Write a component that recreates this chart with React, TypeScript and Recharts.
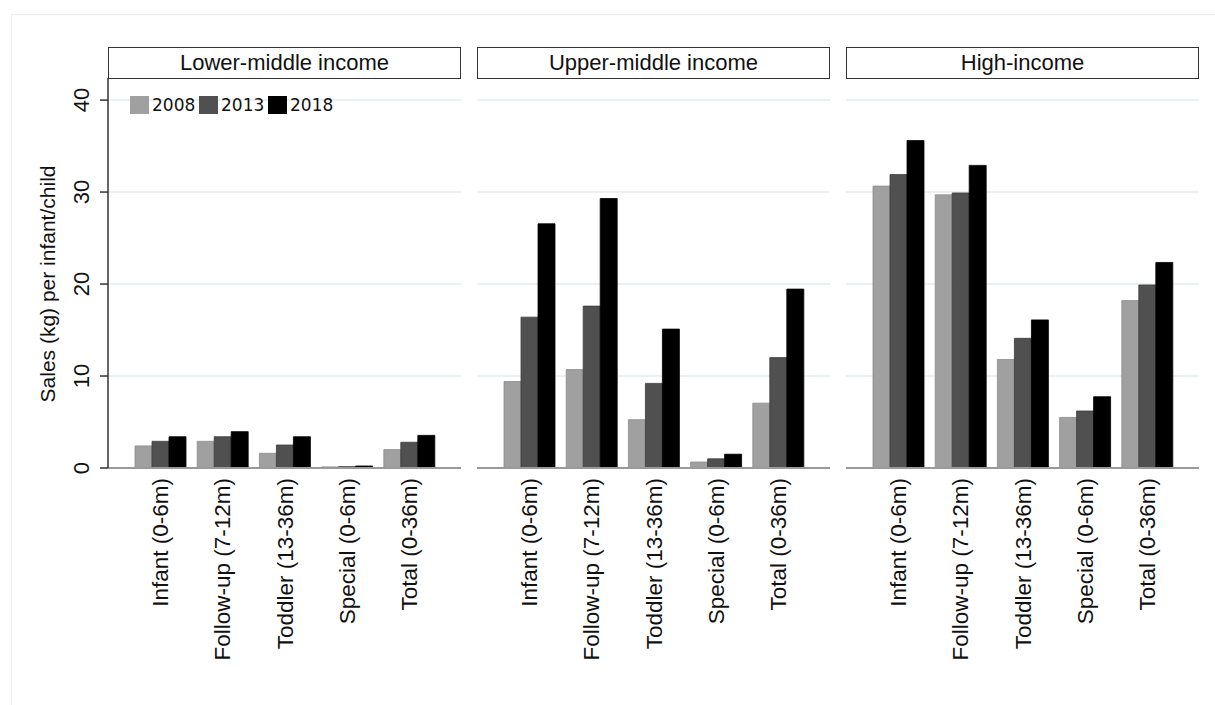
import React from 'react';
import { BarChart, Bar, XAxis, YAxis, CartesianGrid } from 'recharts';

// Formula sales (kg) per infant/child, by income group and year
const CATEGORIES = ['Infant (0-6m)', 'Follow-up (7-12m)', 'Toddler (13-36m)', 'Special (0-6m)', 'Total (0-36m)'];
const YEARS = ['2008', '2013', '2018'];
const PANELS = ['Lower-middle income', 'Upper-middle income', 'High-income'];

const LOWER_2008 = [2.4, 2.9, 1.6, 0.12, 2.0];
const LOWER_2013 = [2.9, 3.4, 2.5, 0.15, 2.8];
const LOWER_2018 = [3.4, 3.95, 3.4, 0.22, 3.55];

const UPPER_2008 = [9.4, 10.7, 5.25, 0.65, 7.05];
const UPPER_2013 = [16.4, 17.6, 9.2, 1.0, 12.0];
const UPPER_2018 = [26.55, 29.3, 15.1, 1.5, 19.45];

const HIGH_2008 = [30.65, 29.7, 11.8, 5.5, 18.2];
const HIGH_2013 = [31.9, 29.9, 14.1, 6.2, 19.9];
const HIGH_2018 = [35.6, 32.9, 16.1, 7.75, 22.35];

const Y_TICKS = [0, 10, 20, 30, 40];

const COLORS = ['#a0a0a0', '#505050', '#000000'];
const STROKES = ['#8c8c8c', '#3c3c3c', '#000000'];

const FONT = '"Liberation Sans", Arial, Helvetica, sans-serif';

const build = (a: number[], b: number[], c: number[]) =>
  CATEGORIES.map((name, i) => ({ name, y2008: a[i], y2013: b[i], y2018: c[i] }));

const PANEL_DATA = [
  build(LOWER_2008, LOWER_2013, LOWER_2018),
  build(UPPER_2008, UPPER_2013, UPPER_2018),
  build(HIGH_2008, HIGH_2013, HIGH_2018),
];

const PANEL_LEFT = [108, 477, 846];
const PANEL_W = 353;
const PLOT_TOP = 78;
const PLOT_BOTTOM = 468;
const H = 705;

const XTick = (props: any) => {
  const { x, payload } = props;
  const y = PLOT_BOTTOM + 10;
  return (
    <text
      x={x}
      y={y}
      dy="0.36em"
      transform={`rotate(-90, ${x}, ${y})`}
      textAnchor="end"
      fontSize={22.5}
      fontFamily={FONT}
      fill="#111"
    >
      {payload.value}
    </text>
  );
};

const YTick = (props: any) => {
  const { y, payload } = props;
  const x = 89;
  return (
    <text
      x={x}
      y={y}
      transform={`rotate(-90, ${x}, ${y})`}
      textAnchor="middle"
      fontSize={22}
      fontFamily={FONT}
      fill="#111"
    >
      {payload.value}
    </text>
  );
};

const Panel = ({ idx }: { idx: number }) => {
  const first = idx === 0;
  const chartLeft = first ? 0 : PANEL_LEFT[idx];
  const width = first ? PANEL_LEFT[0] + PANEL_W : PANEL_W;
  const yAxisW = 60;
  return (
    <div style={{ position: 'absolute', left: chartLeft, top: 0 }}>
      <BarChart
        width={width}
        height={H}
        data={PANEL_DATA[idx]}
        barGap={0}
        margin={{ top: PLOT_TOP, right: 0, bottom: H - PLOT_BOTTOM - 200, left: first ? PANEL_LEFT[0] - yAxisW : 0 }}
      >
        <CartesianGrid horizontal vertical={false} stroke="#e3edf1" strokeWidth={1.5} />
        <XAxis
          dataKey="name"
          height={200}
          padding={{ left: 21, right: 21 }}
          axisLine={{ stroke: '#9a9a9a', strokeWidth: 2 }}
          tickLine={false}
          tick={<XTick />}
          interval={0}
        />
        <YAxis
          hide={!first}
          width={yAxisW}
          domain={[0, 42.4]}
          ticks={Y_TICKS}
          allowDataOverflow
          axisLine={{ stroke: '#333', strokeWidth: 1.5 }}
          tickLine={{ stroke: '#333', strokeWidth: 1.5 }}
          tickSize={8}
          tick={<YTick />}
        />
        {YEARS.map((yr, i) => (
          <Bar
            key={yr}
            dataKey={`y${yr}`}
            name={yr}
            fill={COLORS[i]}
            stroke={STROKES[i]}
            strokeWidth={0.8}
            barSize={17}
            isAnimationActive={false}
          />
        ))}
      </BarChart>
      <div
        style={{
          position: 'absolute',
          left: first ? PANEL_LEFT[0] : 0,
          top: 47,
          width: PANEL_W,
          height: 32,
          boxSizing: 'border-box',
          border: '1.5px solid #333',
          display: 'flex',
          alignItems: 'center',
          justifyContent: 'center',
          fontFamily: FONT,
          fontSize: 22,
          color: '#111',
          background: '#fff',
        }}
      >
        {PANELS[idx]}
      </div>
    </div>
  );
};

const LEGEND_X = [130, 199, 268];

export default function App() {
  return (
    <div style={{ position: 'absolute', left: 0, top: 0, width: 1215, height: H, background: '#fff', overflow: 'hidden' }}>
      <div
        style={{
          position: 'absolute',
          left: 11,
          top: 14,
          width: 1230,
          height: 720,
          borderTop: '1.5px solid #e6eef1',
          borderLeft: '1.5px solid #e6eef1',
        }}
      />
      {PANELS.map((p, i) => (
        <Panel key={p} idx={i} />
      ))}
      {YEARS.map((yr, i) => (
        <div
          key={yr}
          style={{
            position: 'absolute',
            left: LEGEND_X[i],
            top: 95,
            display: 'flex',
            alignItems: 'center',
            fontFamily: '"DejaVu Sans", Verdana, sans-serif',
            fontSize: 17,
            color: '#111',
          }}
        >
          <span style={{ display: 'inline-block', width: 19, height: 18, background: COLORS[i], marginRight: 3 }} />
          <span>{yr}</span>
        </div>
      ))}
      <svg width={1215} height={H} style={{ position: 'absolute', left: 0, top: 0, pointerEvents: 'none' }}>
        <text
          x={55}
          y={284}
          transform="rotate(-90, 55, 284)"
          textAnchor="middle"
          fontSize={21}
          fontFamily={FONT}
          fill="#111"
        >
          Sales (kg) per infant/child
        </text>
      </svg>
    </div>
  );
}
